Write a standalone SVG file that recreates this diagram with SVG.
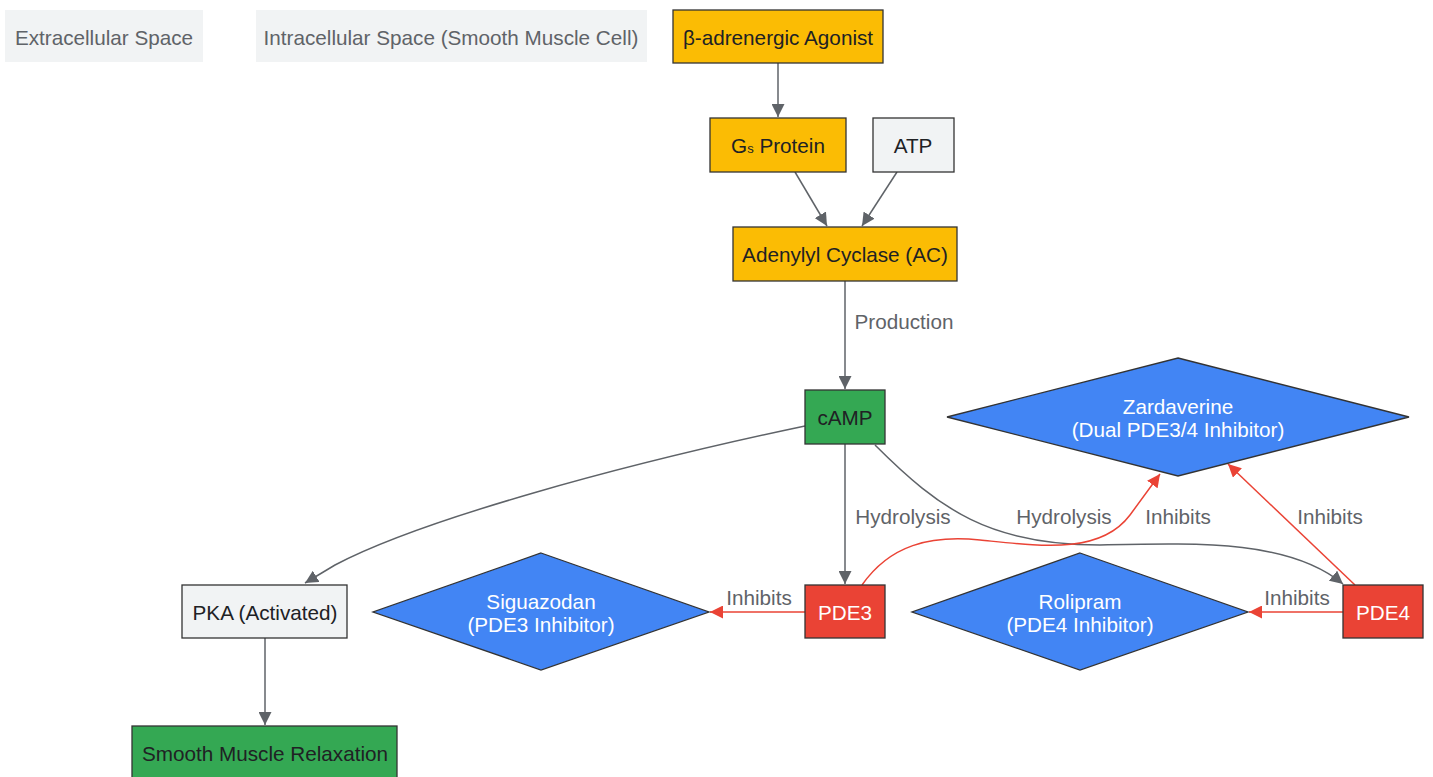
<svg xmlns="http://www.w3.org/2000/svg" width="1433" height="777" viewBox="0 0 1433 777">
<style>
text{font-family:"Liberation Sans",Arial,sans-serif;font-size:20.7px;text-anchor:middle;dominant-baseline:central}
.lbl{fill:#5f6368}
.dark{fill:#202124}
.white{fill:#ffffff}
.box{stroke:#333333;stroke-width:1.3}
.gray{fill:#f1f3f4}
.yel{fill:#fbbc04}
.grn{fill:#34a853}
.red{fill:#ea4335}
.blu{fill:#4285f4}
.e{fill:none;stroke:#5f6368;stroke-width:1.5}
.r{fill:none;stroke:#ea4335;stroke-width:1.5}
</style>
<defs>
<marker id="ag" viewBox="0 0 10 10" refX="10" refY="5" markerWidth="13" markerHeight="13" markerUnits="userSpaceOnUse" orient="auto"><path d="M0,0 L10,5 L0,10 z" fill="#5f6368"/></marker>
<marker id="ar" viewBox="0 0 10 10" refX="10" refY="5" markerWidth="13" markerHeight="13" markerUnits="userSpaceOnUse" orient="auto"><path d="M0,0 L10,5 L0,10 z" fill="#ea4335"/></marker>
</defs>
<rect width="1433" height="777" fill="#ffffff"/>
<g id="extracellular"><rect x="5" y="10" width="198" height="52" class="gray"/><text x="104" y="37" class="lbl">Extracellular Space</text></g>
<g id="intracellular"><rect x="256" y="10" width="391" height="52" class="gray"/><text x="451" y="37" class="lbl">Intracellular Space (Smooth Muscle Cell)</text></g>
<g id="edges">
<path class="e" d="M778,63 L778,117" marker-end="url(#ag)"/>
<path class="e" d="M795,172 L827,226" marker-end="url(#ag)"/>
<path class="e" d="M897,172 L862,226" marker-end="url(#ag)"/>
<path class="e" d="M845,281 L845,389" marker-end="url(#ag)"/>
<path class="e" d="M805,426 C620,465 420,520 335,565 L305,583" marker-end="url(#ag)"/>
<path class="e" d="M845,444 L845,584" marker-end="url(#ag)"/>
<path class="e" d="M875,445 C940,510 990,545 1100,545 C1200,543 1290,540 1343,584" marker-end="url(#ag)"/>
<path class="e" d="M265,638 L265,725" marker-end="url(#ag)"/>
<path class="r" d="M805,612 L710,612" marker-end="url(#ar)"/>
<path class="r" d="M1343,612 L1249,612" marker-end="url(#ar)"/>
<path class="r" d="M862,585 C890,545 930,535 980,540 C1040,546 1100,555 1130,515 L1160,474" marker-end="url(#ar)"/>
<path class="r" d="M1355,585 L1228,464" marker-end="url(#ar)"/>
<text x="904" y="321" class="lbl">Production</text>
<text x="903" y="516" class="lbl">Hydrolysis</text>
<text x="1064" y="516" class="lbl">Hydrolysis</text>
<text x="1178" y="516" class="lbl">Inhibits</text>
<text x="1330" y="516" class="lbl">Inhibits</text>
<text x="759" y="597" class="lbl">Inhibits</text>
<text x="1297" y="597" class="lbl">Inhibits</text>
</g>
<g id="agonist"><rect x="673" y="10" width="210" height="53" class="box yel"/><text x="778" y="37" class="dark">β-adrenergic Agonist</text></g>
<g id="gs"><rect x="710" y="118" width="136" height="54" class="box yel"/><text x="778" y="145" class="dark">G<tspan font-size="13" dy="3">s</tspan><tspan dy="-3"> Protein</tspan></text></g>
<g id="atp"><rect x="873" y="118" width="81" height="54" class="box gray"/><text x="913" y="145" class="dark">ATP</text></g>
<g id="ac"><rect x="733" y="227" width="224" height="54" class="box yel"/><text x="845" y="254" class="dark">Adenylyl Cyclase (AC)</text></g>
<g id="camp"><rect x="805" y="390" width="80" height="54" class="box grn"/><text x="845" y="417" class="dark">cAMP</text></g>
<g id="zardaverine"><polygon points="1178,358 1409,417 1178,476 947,417" class="box blu"/><text x="1178" y="406" class="white">Zardaverine</text><text x="1178" y="429" class="white">(Dual PDE3/4 Inhibitor)</text></g>
<g id="pka"><rect x="182" y="585" width="165" height="53" class="box gray"/><text x="265" y="612" class="dark">PKA (Activated)</text></g>
<g id="siguazodan"><polygon points="541,553 709,612 541,670 373,612" class="box blu"/><text x="541" y="601" class="white">Siguazodan</text><text x="541" y="624" class="white">(PDE3 Inhibitor)</text></g>
<g id="pde3"><rect x="805" y="585" width="80" height="53" class="box red"/><text x="845" y="612" class="white">PDE3</text></g>
<g id="rolipram"><polygon points="1080,553 1248,612 1080,670 912,612" class="box blu"/><text x="1080" y="601" class="white">Rolipram</text><text x="1080" y="624" class="white">(PDE4 Inhibitor)</text></g>
<g id="pde4"><rect x="1343" y="585" width="80" height="53" class="box red"/><text x="1383" y="612" class="white">PDE4</text></g>
<g id="relaxation"><rect x="132" y="726" width="265" height="54" class="box grn"/><text x="265" y="753" class="dark">Smooth Muscle Relaxation</text></g>
</svg>
